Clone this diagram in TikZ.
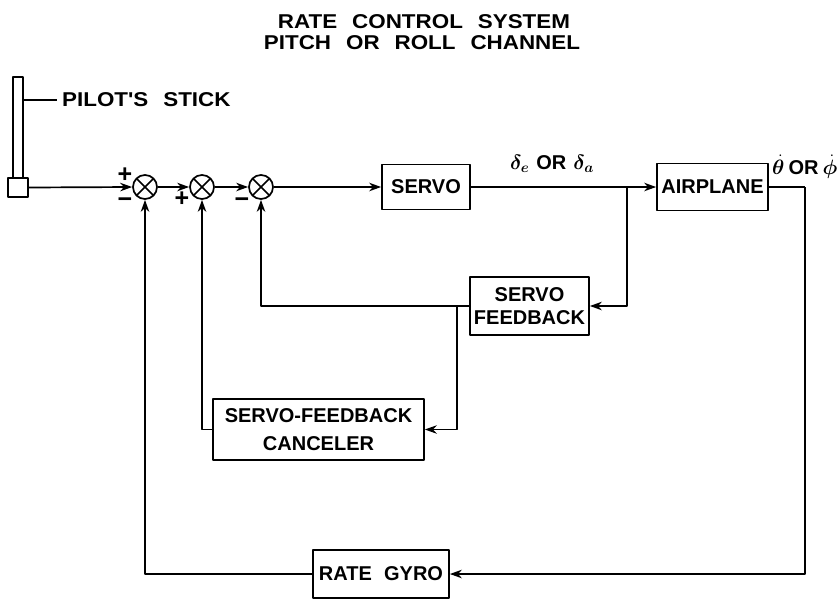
\documentclass[tikz,border=0pt]{standalone}
\usepackage{amsmath,bm}
\usepackage{fontspec}
\setmainfont[WordSpace=2.2]{Liberation Sans}
\newfontfamily\widefam[FakeStretch=1.12, WordSpace=2.4]{Liberation Sans}
\usetikzlibrary{arrows.meta}
\newcommand{\lblfont}{\fontsize{20}{24}\selectfont\bfseries}
\newcommand{\ttlfont}{\widefam\fontsize{20}{20}\selectfont\bfseries}

\tikzset{
  wire/.style={line width=1.7pt},
  sig/.style={wire, -{Stealth[length=12pt,width=8.5pt]}},
  blk/.style={draw, line width=1.7pt, inner sep=0pt, align=center, font=\lblfont},
  sumj/.style={draw, circle, line width=1.7pt, minimum size=24pt, inner sep=0pt,
    path picture={\draw[line width=1.5pt]
      (path picture bounding box.north west) -- (path picture bounding box.south east)
      (path picture bounding box.north east) -- (path picture bounding box.south west);}},
  sgn/.style={font=\fontsize{25}{25}\selectfont\bfseries, inner sep=0pt}
}

\begin{document}
\begin{tikzpicture}[x=1pt, y=-1pt, line join=round]
\useasboundingbox (0,0) rectangle (840,600);
% title
\node[font=\ttlfont, inner sep=0pt, anchor=base] (ttla) at (424,28) {RATE CONTROL SYSTEM};
\node[font=\ttlfont, inner sep=0pt, anchor=base] (ttlb) at (422,49) {PITCH OR ROLL CHANNEL};
% pilot's stick
\node[draw, line width=1.7pt, minimum width=10pt, minimum height=101pt, inner sep=0pt] (shaft) at (18,127.5) {};
\node[draw, line width=1.7pt, minimum width=20pt, minimum height=19pt, inner sep=0pt] (stick) at (18,187.5) {};
\node[font=\widefam\fontsize{20}{24}\selectfont\bfseries, inner sep=0pt, anchor=west] (stklbl) at (62,100) {PILOT'S STICK};
\draw[wire] (shaft.east |- stklbl.west) -- ([xshift=-5pt]stklbl.west);
% summing junctions
\node[sumj] (s1) at (145,187) {};
\node[sumj] (s2) at (202,187) {};
\node[sumj] (s3) at (261,187) {};
\node[sgn] (p1) at (125,175) {+};
\node[sgn] (m1) at (125,203) {−};
\node[sgn] (p2) at (182,199) {+};
\node[sgn] (m3) at (242,203) {−};
% blocks
\node[blk, minimum width=88pt, minimum height=45pt] (servo) at (426,187) {SERVO};
\node[blk, minimum width=111pt, minimum height=47pt] (plane) at (712.5,187) {AIRPLANE};
\node[blk, minimum width=119pt, minimum height=58pt, font=\fontsize{20}{23}\selectfont\bfseries] (sfb) at (529.5,306) {SERVO\\FEEDBACK};
\node[blk, minimum width=211pt, minimum height=61pt, font=\fontsize{20}{28}\selectfont\bfseries] (cncl) at (318.5,429.5) {SERVO-FEEDBACK\\CANCELER};
\node[blk, minimum width=136pt, minimum height=48pt] (gyro) at (381,574) {RATE GYRO};
% signal labels
\node[font=\lblfont, inner sep=0pt, anchor=base] (dlbl) at (552,169) {$\bm{\delta_e}$\hspace{7pt}OR\hspace{7pt}$\bm{\delta_a}$};
\node[font=\lblfont, inner sep=0pt, anchor=base west] (rlbl) at (772,174) {$\bm{\dot\theta}$\hspace{4pt}OR\hspace{4pt}$\bm{\dot\phi}$};
% forward path
\draw[sig] (stick.east) -- (s1.west);
\draw[sig] (s1.east) -- (s2.west);
\draw[sig] (s2.east) -- (s3.west);
\draw[sig] (s3.east) -- (servo.west);
\draw[sig] (servo.east) -- (plane.west);
% servo feedback loop
\coordinate (br1) at (627,187);
\draw[sig] (br1) |- (sfb.east);
\draw[sig] (sfb.west) -| (s3.south);
\coordinate (br2) at (457,306);
\draw[sig] (br2) |- (cncl.east);
\draw[sig] (cncl.west) -| (s2.south);
% rate loop
\coordinate (rt) at (805,187);
\draw[wire] (plane.east) -- (rt);
\draw[sig] (rt) |- (gyro.east);
\draw[sig] (gyro.west) -| (s1.south);
\end{tikzpicture}
\end{document}
